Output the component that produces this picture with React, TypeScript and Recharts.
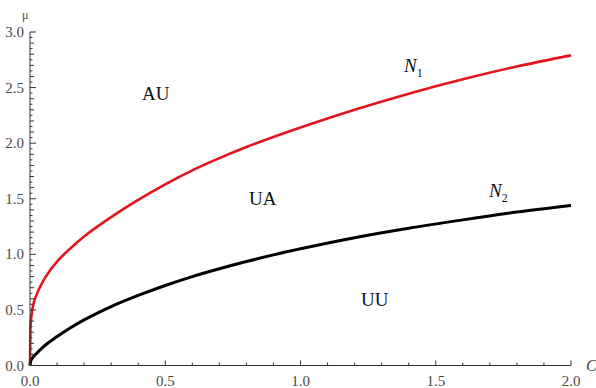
import { LineChart, Line, XAxis, YAxis } from 'recharts'

// boundary N1 (red) and N2 (black)
const n1C = [0, 0.002, 0.01, 0.025, 0.05, 0.075, 0.1, 0.15, 0.2, 0.3, 0.4, 0.5, 0.6, 0.7, 0.8, 0.9, 1.0, 1.2, 1.4, 1.6, 1.8, 2.0]
const n1Mu = [0, 0.36, 0.52, 0.64, 0.765, 0.86, 0.935, 1.055, 1.16, 1.335, 1.49, 1.63, 1.755, 1.865, 1.965, 2.055, 2.14, 2.3, 2.445, 2.575, 2.69, 2.79]

const n2C = [0, 0.002, 0.01, 0.025, 0.05, 0.1, 0.15, 0.2, 0.3, 0.4, 0.5, 0.6, 0.7, 0.8, 0.9, 1.0, 1.2, 1.4, 1.6, 1.8, 2.0]
const n2Mu = [0, 0.035, 0.07, 0.11, 0.17, 0.26, 0.34, 0.41, 0.53, 0.63, 0.72, 0.8, 0.87, 0.935, 0.995, 1.05, 1.15, 1.235, 1.31, 1.38, 1.44]

const xTicks = Array.from({ length: 21 }, (_, i) => i / 10)
const yTicks = Array.from({ length: 61 }, (_, i) => (i * 5) / 100)

const n1Data = n1C.map((c, i) => ({ c, mu: n1Mu[i] }))
const n2Data = n2C.map((c, i) => ({ c, mu: n2Mu[i] }))

const SERIF = '"Liberation Serif", "Times New Roman", serif'
const AXIS = '#333'
const LABEL = '#4a4a4a'

const isMajor = (v: number) => Math.abs(v * 2 - Math.round(v * 2)) < 1e-6

function XTick({ x, y, payload }: any) {
  const v = payload.value
  const major = isMajor(v)
  return (
    <g>
      <line x1={x} x2={x} y1={y} y2={y - (major ? 5 : 3)} stroke={AXIS} strokeWidth={1} />
      {major && (
        <text x={x} y={y + 20} textAnchor="middle" fill={LABEL} fontSize={15} fontFamily={SERIF}>
          {v.toFixed(1)}
        </text>
      )}
    </g>
  )
}

function YTick({ x, y, payload }: any) {
  const v = payload.value
  const major = isMajor(v)
  const minor10 = Math.abs(v * 10 - Math.round(v * 10)) < 1e-6
  const len = major ? 6 : minor10 ? 4 : 2.5
  return (
    <g>
      <line x1={x} x2={x + len} y1={y} y2={y} stroke={AXIS} strokeWidth={1} />
      {major && (
        <text x={x - 6} y={y + 5} textAnchor="end" fill={LABEL} fontSize={15} fontFamily={SERIF}>
          {v.toFixed(1)}
        </text>
      )}
    </g>
  )
}

const txt = (left: number, top: number, size: number, italic = false, color = '#111') => ({
  position: 'absolute' as const,
  left,
  top,
  fontSize: size,
  fontFamily: SERIF,
  fontStyle: italic ? 'italic' : 'normal',
  color,
  lineHeight: 1,
  whiteSpace: 'nowrap' as const,
})

export default function App() {
  return (
    <div style={{ position: 'absolute', left: 0, top: 0, width: 596, height: 388, background: '#fff', overflow: 'hidden' }}>
      <LineChart width={596} height={388} margin={{ top: 32, right: 25, left: 0, bottom: 0 }}>
        <XAxis
          type="number"
          dataKey="c"
          domain={[0, 2]}
          ticks={xTicks}
          interval={0}
          height={22.5}
          tickSize={0}
          tickMargin={0}
          tickLine={false}
          axisLine={{ stroke: AXIS, strokeWidth: 1 }}
          tick={<XTick />}
          allowDuplicatedCategory={false}
        />
        <YAxis
          type="number"
          dataKey="mu"
          domain={[0, 3]}
          ticks={yTicks}
          interval={0}
          width={30}
          tickSize={0}
          tickMargin={0}
          tickLine={false}
          axisLine={{ stroke: AXIS, strokeWidth: 1 }}
          tick={<YTick />}
        />
        <Line data={n1Data} dataKey="mu" type="monotone" stroke="#e3141c" strokeWidth={2.6} dot={false} isAnimationActive={false} />
        <Line data={n2Data} dataKey="mu" type="monotone" stroke="#000" strokeWidth={3} dot={false} isAnimationActive={false} />
      </LineChart>
      <div style={txt(22, 9, 12, false, LABEL)}>μ</div>
      <div style={txt(586, 358, 16, true, LABEL)}>C</div>
      <div style={txt(142, 84, 19)}>AU</div>
      <div style={txt(249, 189, 19)}>UA</div>
      <div style={txt(361, 290, 19)}>UU</div>
      <div style={txt(404, 56, 19, true)}>
        N<span style={{ fontSize: 12, fontStyle: 'normal', position: 'relative', top: 5 }}>1</span>
      </div>
      <div style={txt(489, 181, 19, true)}>
        N<span style={{ fontSize: 12, fontStyle: 'normal', position: 'relative', top: 5 }}>2</span>
      </div>
    </div>
  )
}
